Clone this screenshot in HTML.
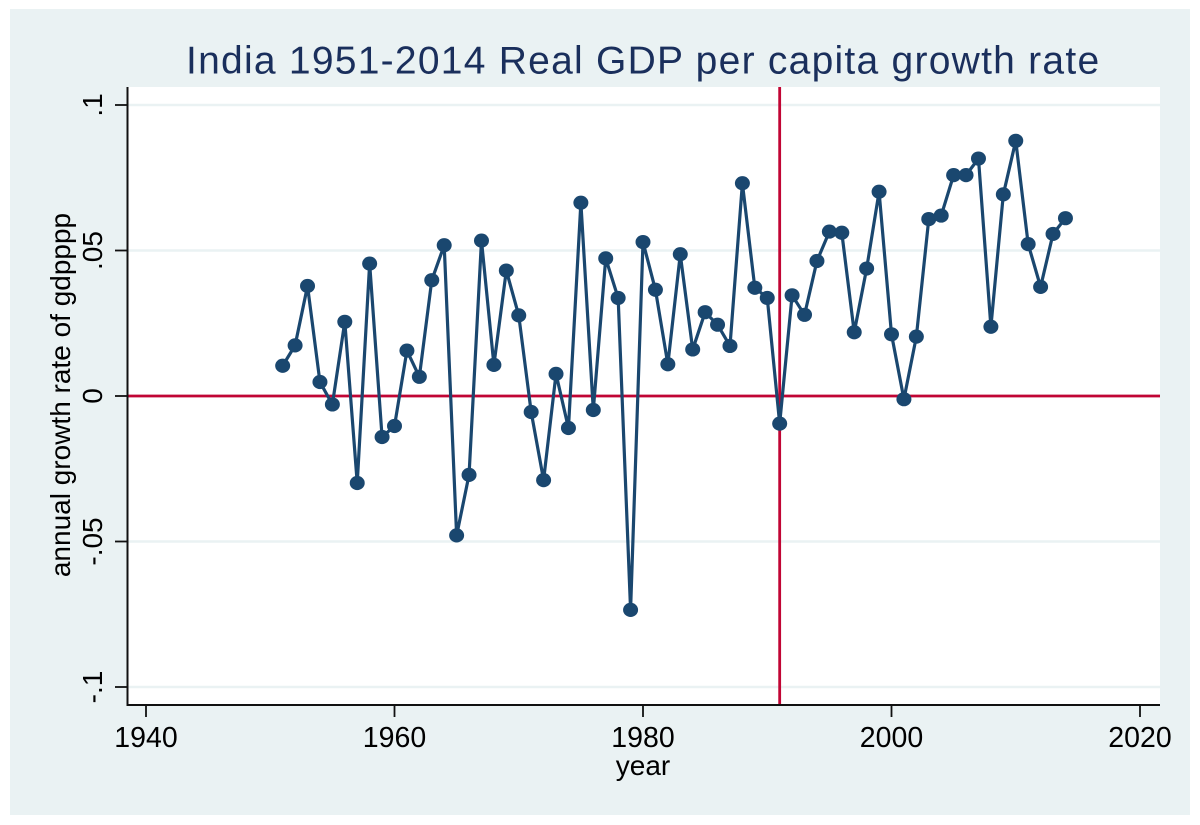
<!DOCTYPE html>
<html lang="en">
<head>
<meta charset="utf-8">
<title>India 1951-2014 Real GDP per capita growth rate</title>
<style>
html,body{margin:0;padding:0;background:#fff;width:1200px;height:825px;overflow:hidden}
svg{display:block}
text{font-family:"Liberation Sans",Arial,sans-serif}
</style>
</head>
<body>
<svg id="chart" width="1200" height="825" viewBox="0 0 1200 825" xmlns="http://www.w3.org/2000/svg">
  <rect x="10" y="9" width="1180" height="806" fill="#eaf2f3"/>
  <rect x="127.5" y="87" width="1032.5" height="618" fill="#ffffff"/>
  <g id="grid"></g>
  <g id="refs"></g>
  <g id="series"></g>
  <g id="axes"></g>
  <text x="186" y="73.3" font-size="39" letter-spacing="1.25" fill="#1a2f5c">India 1951-2014 Real GDP per capita growth rate</text>
  <text x="643" y="775" text-anchor="middle" font-size="28" fill="#000">year</text>
  <text transform="translate(70 395) rotate(-90)" text-anchor="middle" font-size="28" fill="#000">annual growth rate of gdpppp</text>
</svg>
<script>
const years = [1951,1952,1953,1954,1955,1956,1957,1958,1959,1960,1961,1962,1963,1964,1965,1966,1967,1968,1969,1970,1971,1972,1973,1974,1975,1976,1977,1978,1979,1980,1981,1982,1983,1984,1985,1986,1987,1988,1989,1990,1991,1992,1993,1994,1995,1996,1997,1998,1999,2000,2001,2002,2003,2004,2005,2006,2007,2008,2009,2010,2011,2012,2013,2014];
const growth = [0.0104,0.0174,0.0378,0.0048,-0.0029,0.0255,-0.0299,0.0455,-0.0141,-0.0103,0.0156,0.0066,0.0398,0.0518,-0.0479,-0.0271,0.0534,0.0107,0.0431,0.0277,-0.0055,-0.0289,0.0076,-0.0110,0.0664,-0.0048,0.0473,0.0337,-0.0735,0.0529,0.0365,0.0109,0.0487,0.0160,0.0288,0.0245,0.0172,0.0731,0.0372,0.0337,-0.0095,0.0346,0.0279,0.0464,0.0565,0.0561,0.0219,0.0438,0.0702,0.0212,-0.0011,0.0204,0.0608,0.0620,0.0759,0.0759,0.0816,0.0238,0.0693,0.0877,0.0522,0.0375,0.0557,0.0611];
const xTicks = [1940,1960,1980,2000,2020];
const yTicks = [-0.1,-0.05,0,0.05,0.1];
const yTickLabels = ["-.1","-.05","0",".05",".1"];
const refYear = 1991;
const refValue = 0;

const NS = "http://www.w3.org/2000/svg";
const plotLeft = 127.5, plotRight = 1160, plotTop = 87, plotBottom = 705;
function xScale(v){ return 146 + (v - 1940) * (1140 - 146) / 80; }
function yScale(v){ return 396 - v * 2910; }
function mk(parent, tag, attrs){
  const el = document.createElementNS(NS, tag);
  for (const k in attrs) el.setAttribute(k, attrs[k]);
  parent.appendChild(el);
  return el;
}
const grid = document.getElementById("grid");
const refs = document.getElementById("refs");
const series = document.getElementById("series");
const axes = document.getElementById("axes");

yTicks.forEach(function(t, i){
  const y = yScale(t);
  const g = mk(grid, "line", {x1: plotLeft, x2: plotRight, y1: y, y2: y, stroke: "#eaf2f3", "stroke-width": 2.5});
  
  
  const tick = mk(axes, "line", {x1: 115, x2: plotLeft, y1: y, y2: y, stroke: "#111", "stroke-width": 1.8});
  
  
  const lab = mk(axes, "text", {transform: "translate(102 " + y + ") rotate(-90)", "text-anchor": "middle", "font-size": 28, fill: "#000"});
  lab.textContent = yTickLabels[i];
  
  
});
xTicks.forEach(function(t){
  const x = xScale(t);
  const tick = mk(axes, "line", {x1: x, x2: x, y1: plotBottom, y2: 717, stroke: "#111", "stroke-width": 1.8});
  
  
  const lab = mk(axes, "text", {x: x, y: 747, "text-anchor": "middle", "font-size": 28.5, fill: "#000"});
  lab.textContent = String(t);
  
  
});
const axL = mk(axes, "line", {x1: plotLeft, x2: plotLeft, y1: plotTop, y2: plotBottom + 1, stroke: "#111", "stroke-width": 2});


const axB = mk(axes, "line", {x1: plotLeft, x2: plotRight, y1: plotBottom, y2: plotBottom, stroke: "#111", "stroke-width": 2});



const rv = mk(refs, "line", {x1: xScale(refYear), x2: xScale(refYear), y1: plotTop, y2: plotBottom, stroke: "#c10534", "stroke-width": 2.8});


const rh = mk(refs, "line", {x1: plotLeft, x2: plotRight, y1: yScale(refValue), y2: yScale(refValue), stroke: "#c10534", "stroke-width": 2.8});



const pts = years.map(function(yr, i){ return xScale(yr) + "," + yScale(growth[i]); }).join(" ");
const line = mk(series, "polyline", {points: pts, fill: "none", stroke: "#1a476f", "stroke-width": 3.2, "stroke-linejoin": "round"});


years.forEach(function(yr, i){
  const c = mk(series, "ellipse", {cx: xScale(yr), cy: yScale(growth[i]), rx: 7.5, ry: 7.1, fill: "#1a476f"});
  
  
});
</script>
</body>
</html>
